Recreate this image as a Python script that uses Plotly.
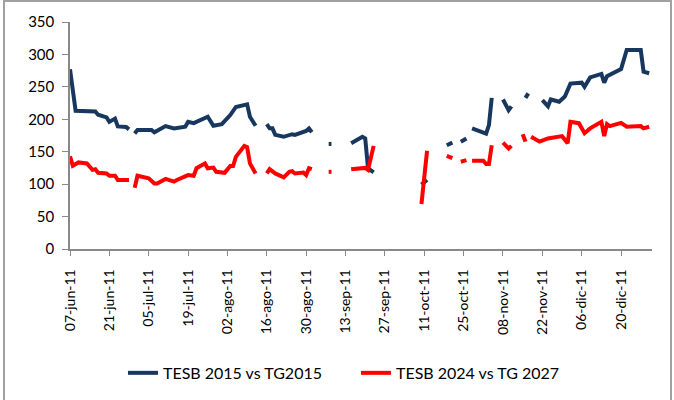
import plotly.graph_objects as go

# --- Data ---
blue_dates = [
    "2011-06-07", "2011-06-09", "2011-06-16", "2011-06-17", "2011-06-20", "2011-06-21",
    "2011-06-23", "2011-06-24", "2011-06-27", "2011-06-28", "2011-06-29",
    "2011-06-30", "2011-07-01", "2011-07-06", "2011-07-07", "2011-07-11", "2011-07-14",
    "2011-07-18", "2011-07-19", "2011-07-21", "2011-07-26", "2011-07-28", "2011-07-31",
    "2011-08-03", "2011-08-05", "2011-08-09", "2011-08-10", "2011-08-12", "2011-08-14",
    "2011-08-16", "2011-08-17", "2011-08-18", "2011-08-19", "2011-08-22", "2011-08-25",
    "2011-08-26", "2011-08-30", "2011-08-31", "2011-09-01", "2011-09-04",
    "2011-09-07", "2011-09-08", "2011-09-11",
    "2011-09-15", "2011-09-19", "2011-09-20", "2011-09-21", "2011-09-23", "2011-09-30",
    "2011-10-10", "2011-10-12", "2011-10-15",
    "2011-10-19", "2011-10-21", "2011-10-22",
    "2011-10-24", "2011-10-26", "2011-10-27",
    "2011-10-28", "2011-11-02", "2011-11-03", "2011-11-04", "2011-11-06",
    "2011-11-08", "2011-11-10", "2011-11-11", "2011-11-13",
    "2011-11-16", "2011-11-17", "2011-11-20",
    "2011-11-22", "2011-11-24", "2011-11-25", "2011-11-28", "2011-11-30", "2011-12-02",
    "2011-12-06", "2011-12-07", "2011-12-09", "2011-12-13", "2011-12-14", "2011-12-15",
    "2011-12-20", "2011-12-22", "2011-12-27", "2011-12-28", "2011-12-30",
]
blue_values = [
    277, 213, 212, 207, 203, 196,
    201, 189, 188, 184.5, None,
    178, 183.5, 183.5, 180, 189.5, 186,
    188.5, 196, 194, 204, 190, 192.5,
    206.5, 219, 223, 204, 190, None,
    192.5, 186, 186, 176, 173, 177,
    176, 182, 186, 180, None,
    162, 162, None,
    163, 173, 170.5, 124.5, 118, None,
    99.5, 106.5, None,
    160, 164, None,
    165.5, 170.5, None,
    186, 178, 191, 233, None,
    230.5, 214, 220, None,
    233, 240, None,
    229.5, 220, 230.5, 227, 235, 255,
    256.5, 250, 264.5, 270, 256.5, 266.5,
    277.5, 307, 307, 273.5, 271,
]

red_dates = [
    "2011-06-07", "2011-06-08", "2011-06-10", "2011-06-13", "2011-06-15", "2011-06-16",
    "2011-06-17", "2011-06-20", "2011-06-21", "2011-06-23", "2011-06-24", "2011-06-28",
    "2011-06-29",
    "2011-06-30", "2011-07-01", "2011-07-05", "2011-07-07", "2011-07-08", "2011-07-11",
    "2011-07-14", "2011-07-15", "2011-07-19", "2011-07-21", "2011-07-22", "2011-07-25",
    "2011-07-26", "2011-07-28", "2011-07-29", "2011-08-01", "2011-08-03", "2011-08-04",
    "2011-08-05", "2011-08-08", "2011-08-09", "2011-08-10", "2011-08-12", "2011-08-14",
    "2011-08-16", "2011-08-17", "2011-08-19", "2011-08-22", "2011-08-24", "2011-08-25",
    "2011-08-26", "2011-08-29", "2011-08-30", "2011-08-31", "2011-09-01", "2011-09-04",
    "2011-09-07", "2011-09-08", "2011-09-11",
    "2011-09-15", "2011-09-19", "2011-09-20", "2011-09-21", "2011-09-23", "2011-09-30",
    "2011-10-10", "2011-10-12", "2011-10-15",
    "2011-10-19", "2011-10-21", "2011-10-22",
    "2011-10-24", "2011-10-26", "2011-10-27",
    "2011-10-28", "2011-11-01", "2011-11-02", "2011-11-03", "2011-11-04", "2011-11-06",
    "2011-11-08", "2011-11-10", "2011-11-11", "2011-11-13",
    "2011-11-15", "2011-11-16", "2011-11-17",
    "2011-11-18", "2011-11-21", "2011-11-24", "2011-11-29", "2011-12-01", "2011-12-02",
    "2011-12-05", "2011-12-07", "2011-12-09", "2011-12-13", "2011-12-14", "2011-12-15",
    "2011-12-16", "2011-12-20", "2011-12-22", "2011-12-27", "2011-12-28", "2011-12-30",
]
red_values = [
    143, 128.5, 133.5, 132, 122, 123,
    117.5, 116.5, 113, 113, 106.5, 106.5,
    None,
    94.5, 113, 109, 101, 101, 108,
    104, 106.5, 114, 113, 124.5, 132,
    124.5, 125.5, 119, 117.5, 128, 128,
    142, 159, 157, 132, 116.5, None,
    116.5, 123, 116.5, 110.5, 119, 120,
    116.5, 118, 114, 124.5, 123, None,
    119, 119, None,
    123, 124.5, 125, 122, 159, None,
    69.5, 151.5, None,
    143.5, 140, None,
    134.5, 137, None,
    136, 136, 131, 131, 160, None,
    164, 155, 159, None,
    177, 165.5, None,
    173, 165.5, 170.5, 174, 163, 196,
    194, 178.5, 186, 196, 174, 192.5,
    189.5, 194.5, 188.5, 189.5, 186, 188.5,
]

tick_dates = [
    "2011-06-07", "2011-06-21", "2011-07-05", "2011-07-19", "2011-08-02", "2011-08-16",
    "2011-08-30", "2011-09-13", "2011-09-27", "2011-10-11", "2011-10-25", "2011-11-08",
    "2011-11-22", "2011-12-06", "2011-12-20",
]
tick_labels = [
    "07-jun-11", "21-jun-11", "05-jul-11", "19-jul-11", "02-ago-11", "16-ago-11",
    "30-ago-11", "13-sep-11", "27-sep-11", "11-oct-11", "25-oct-11", "08-nov-11",
    "22-nov-11", "06-dic-11", "20-dic-11",
]
y_ticks = [0, 50, 100, 150, 200, 250, 300, 350]

series_names = ["TESB 2015 vs TG2015", "TESB 2024 vs TG 2027"]
colors = ["#17375E", "#FF0000"]

FONT = "Lato, sans-serif"

fig = go.Figure()
fig.add_trace(go.Scatter(x=blue_dates, y=blue_values, mode="lines", name=series_names[0],
                         line=dict(color=colors[0], width=4), connectgaps=False))
fig.add_trace(go.Scatter(x=red_dates, y=red_values, mode="lines", name=series_names[1],
                         line=dict(color=colors[1], width=4), connectgaps=False))

fig.update_layout(
    width=674, height=400,
    margin=dict(l=70, r=22, t=22, b=151, autoexpand=False),
    paper_bgcolor="white", plot_bgcolor="white",
    font=dict(family=FONT, size=13, color="#000000"),
    showlegend=True,
    legend=dict(orientation="h", x=0.091, xanchor="left", y=-0.546, yanchor="middle",
                font=dict(family=FONT, size=16), itemwidth=30,
                entrywidth=188, entrywidthmode="pixels", tracegroupgap=0),
    xaxis=dict(
        type="date", range=["2011-06-07", "2011-12-31"],
        tickmode="array", tickvals=tick_dates, ticktext=tick_labels,
        tickangle=-90, ticks="outside", ticklen=5, tickcolor="#898989",
        ticklabelstandoff=8,
        showline=True, linecolor="#898989", linewidth=1.5,
        showgrid=False, zeroline=False, automargin=False,
        tickfont=dict(family=FONT, size=14),
    ),
    yaxis=dict(
        range=[0, 350], tickmode="array", tickvals=y_ticks,
        ticks="outside", ticklen=6, tickcolor="#898989",
        ticklabelstandoff=5,
        showline=True, linecolor="#898989", linewidth=1.5,
        showgrid=False, zeroline=False, automargin=False,
        tickfont=dict(family=FONT, size=15),
    ),
    shapes=[dict(type="rect", xref="paper", yref="paper",
                 x0=-0.1134, x1=1.0326, y0=-0.68, y1=1.0925,
                 line=dict(color="#a0a0a0", width=2), layer="below")],
)

fig.write_html("out.html", config={"displayModeBar": False},
               post_script="document.body.style.margin='0px';document.body.style.overflow='hidden';")
